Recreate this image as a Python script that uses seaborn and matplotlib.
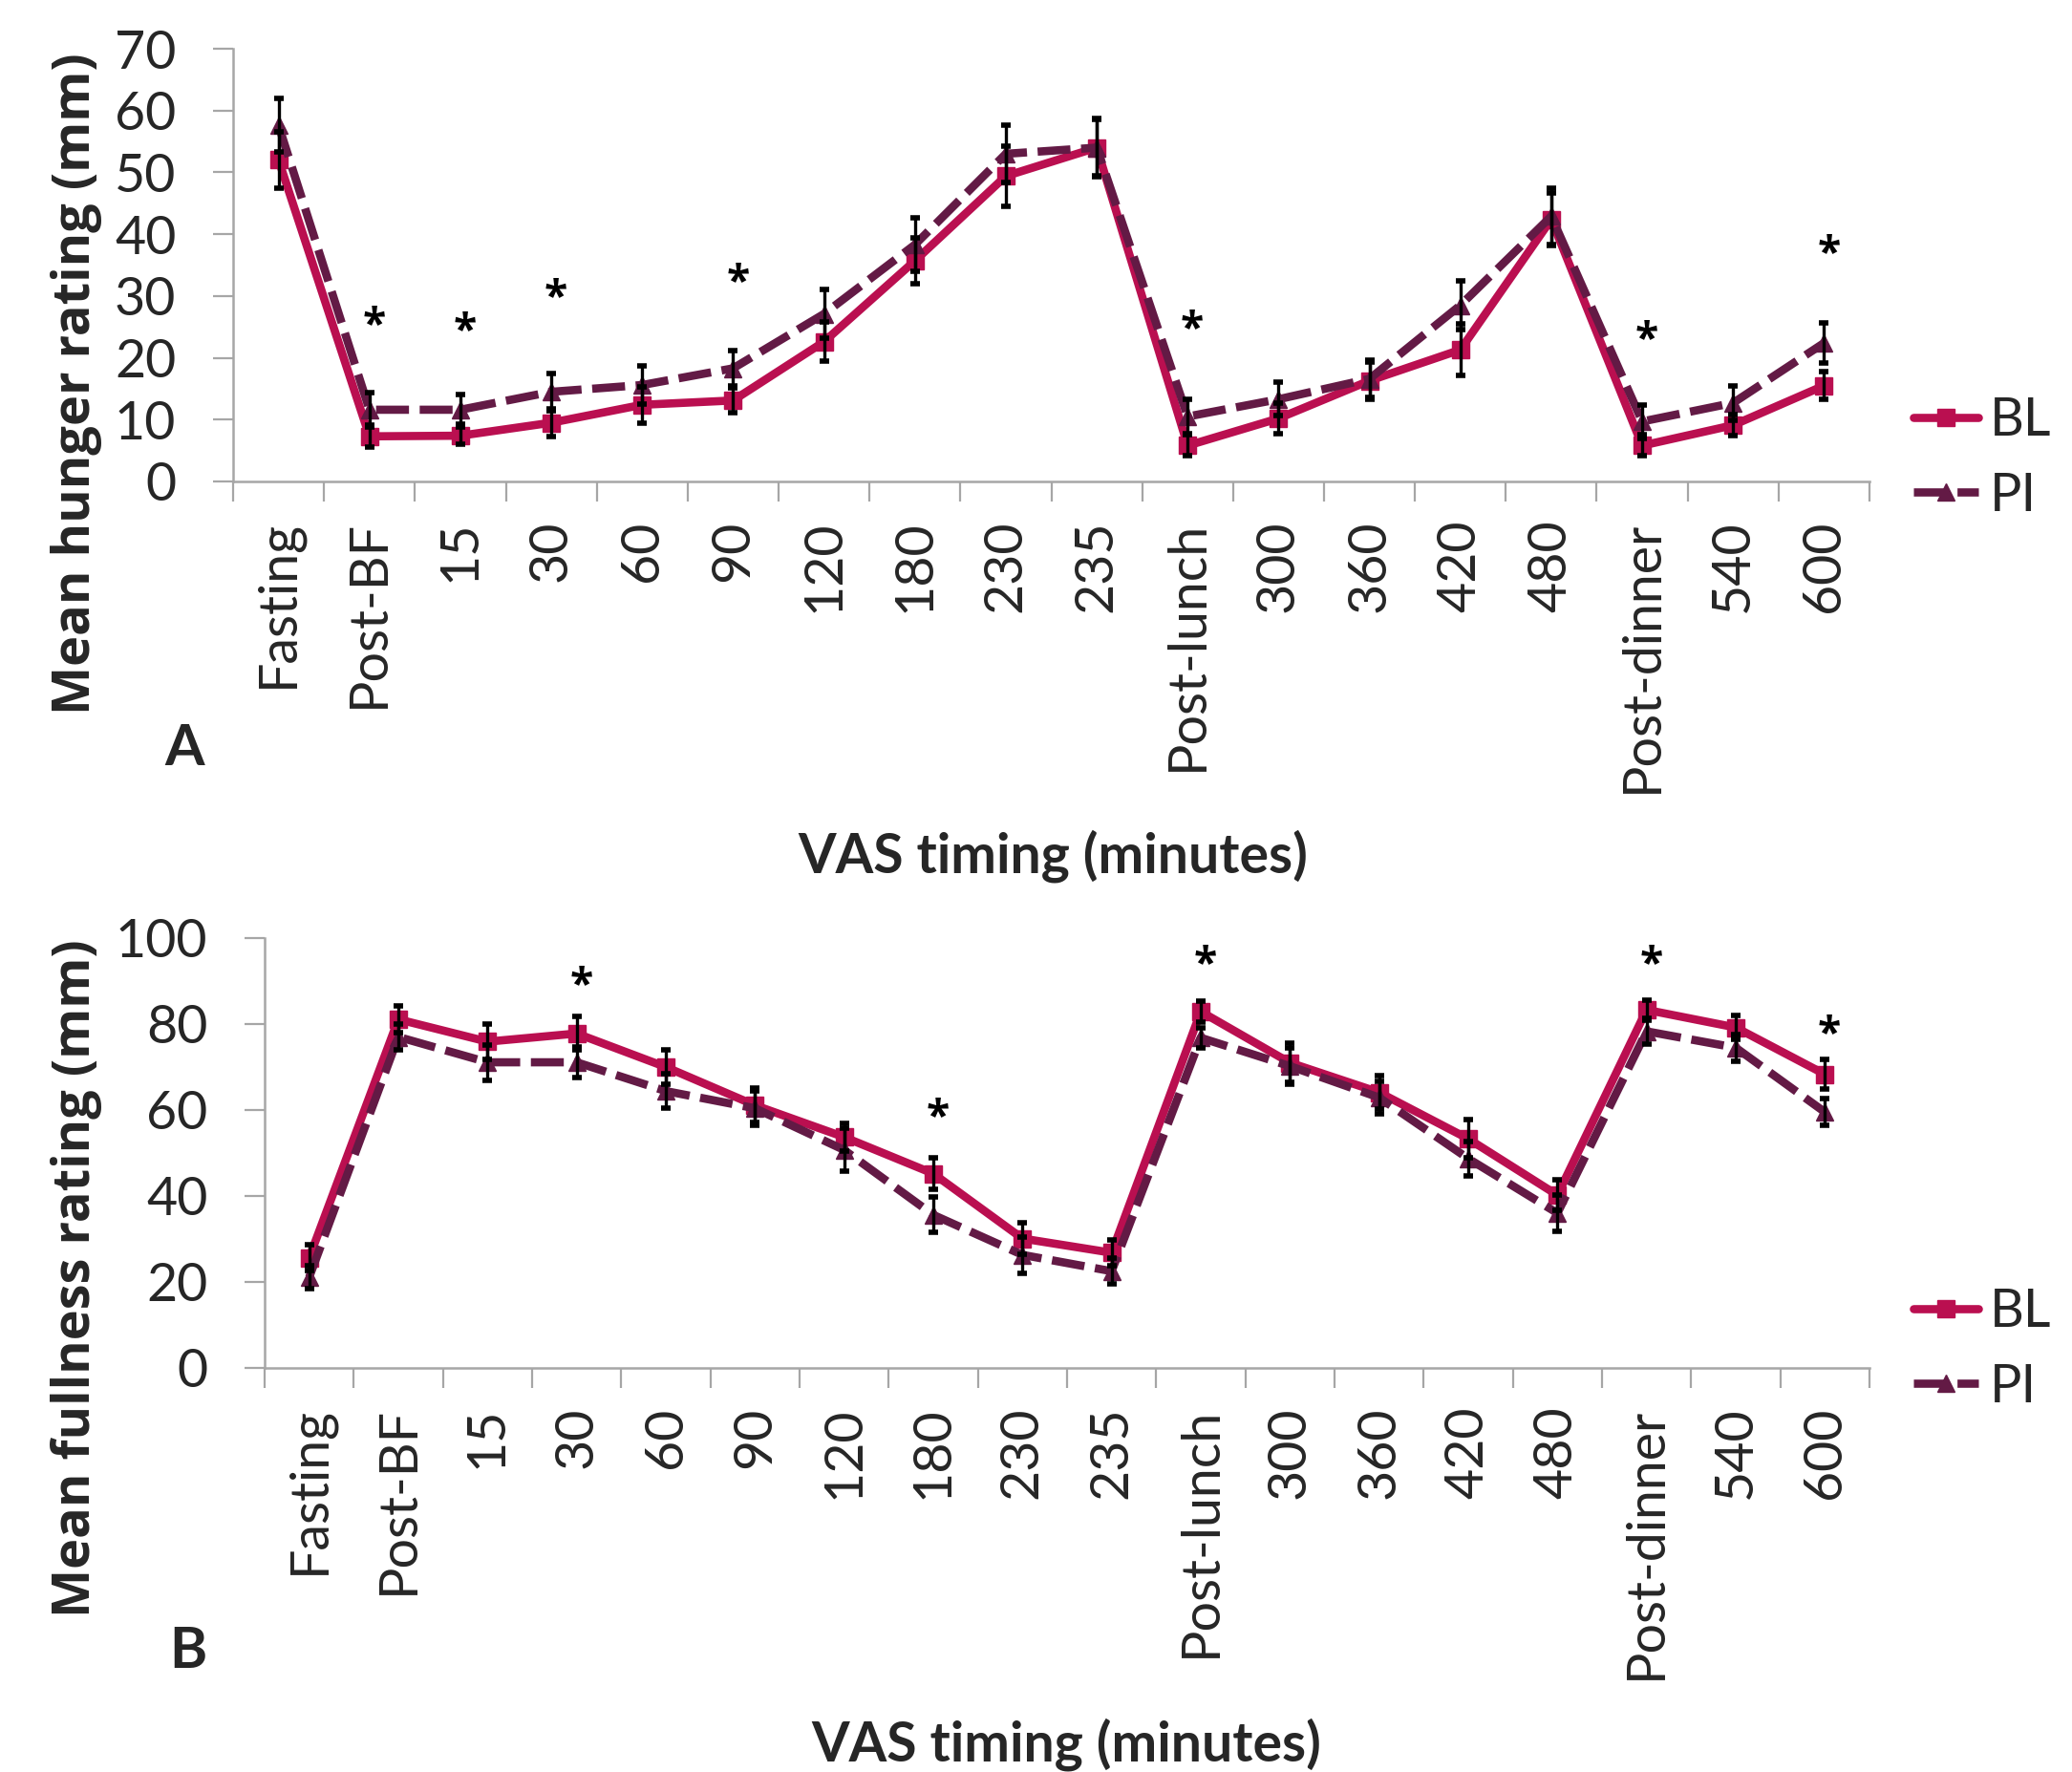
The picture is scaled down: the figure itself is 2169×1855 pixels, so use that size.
import numpy as np
import pandas as pd
import matplotlib
matplotlib.use("Agg")
import matplotlib.pyplot as plt
from matplotlib.lines import Line2D
from matplotlib.ticker import FixedLocator, NullFormatter
import seaborn as sns

# ---------------- data ----------------
timings = ["Fasting", "Post-BF", "15", "30", "60", "90", "120", "180", "230", "235",
           "Post-lunch", "300", "360", "420", "480", "Post-dinner", "540", "600"]

hunger_bl = [52.0, 7.3, 7.4, 9.5, 12.4, 13.1, 22.6, 35.7, 49.4, 54.0,
             5.8, 10.2, 16.3, 21.3, 42.4, 5.8, 9.1, 15.5]
hunger_pi = [57.6, 11.6, 11.6, 14.5, 15.6, 18.3, 27.1, 38.3, 53.0, 54.0,
             10.5, 13.3, 16.6, 28.5, 42.9, 9.7, 12.7, 22.4]
hunger_bl_err = [4.6, 1.8, 1.4, 2.2, 2.9, 2.0, 3.2, 3.7, 4.9, 4.6,
                 1.7, 2.5, 3.0, 4.2, 4.3, 1.7, 1.7, 2.2]
hunger_pi_err = [4.3, 2.8, 2.4, 3.0, 3.1, 2.8, 3.9, 4.3, 4.6, 4.7,
                 2.8, 2.7, 3.0, 3.9, 4.6, 2.7, 2.8, 3.3]
hunger_sig_idx = [1, 2, 3, 5, 10, 15, 17]
hunger_sig_y = [27.0, 26.0, 31.4, 34.0, 26.3, 24.6, 38.5]

fullness_bl = [25.6, 81.1, 75.9, 77.8, 70.0, 61.1, 53.7, 45.2, 30.1, 26.8,
               82.9, 71.0, 64.1, 53.3, 40.2, 83.3, 79.2, 68.3]
fullness_pi = [21.1, 77.0, 71.1, 71.1, 64.4, 60.4, 50.7, 35.6, 26.3, 22.5,
               76.8, 70.2, 62.9, 48.7, 36.0, 78.3, 74.5, 59.5]
fullness_bl_err = [3.0, 3.1, 4.1, 3.9, 4.1, 4.0, 3.3, 3.7, 3.7, 3.0,
                   2.5, 4.5, 3.8, 4.4, 3.5, 2.3, 2.8, 3.5]
fullness_pi_err = [2.6, 3.1, 4.1, 3.5, 4.0, 4.0, 5.0, 4.1, 4.2, 3.0,
                   2.3, 4.2, 3.8, 4.0, 4.2, 3.0, 3.1, 3.1]
fullness_sig_idx = [3, 7, 10, 15, 17]
fullness_sig_y = [91.5, 60.7, 96.4, 96.4, 80.2]

groups = ["BL", "PI"]
colors = {"BL": "#BA0F50", "PI": "#631A45"}

# ---------------- style ----------------
sns.set_style("white")
plt.rcParams["font.family"] = ["Lato", "DejaVu Sans"]
plt.rcParams["lines.scale_dashes"] = True

W, H = 2169, 1855
fig = plt.figure(figsize=(W / 100, H / 100), dpi=100)

AX_GRAY = "#A6A6A6"
LW = 6.2


def px_rect(l, t, r, b):
    return [l / W, 1 - b / H, (r - l) / W, (b - t) / H]


def draw_panel(ax, bl, pi, bl_err, pi_err, sig_idx, sig_y, ymax, ystep):
    n = len(timings)
    pos = np.arange(n)
    df = pd.DataFrame({
        "pos": np.concatenate([pos, pos]),
        "value": np.array(bl + pi, dtype=float),
        "group": ["BL"] * n + ["PI"] * n,
    })
    sns.lineplot(data=df, x="pos", y="value", hue="group", style="group",
                 palette=colors, markers={"BL": "s", "PI": "^"},
                 dashes={"BL": "", "PI": (4.0, 1.3)},
                 linewidth=LW, markersize=13, legend=False, ax=ax,
                 zorder=2)
    for ln in ax.lines:
        ln.set_markeredgecolor(ln.get_color())
        ln.set_markeredgewidth(1)
    # error bars
    for vals, errs in ((bl, bl_err), (pi, pi_err)):
        ax.errorbar(pos, vals, yerr=errs, fmt="none", ecolor="black",
                    elinewidth=2.4, capsize=3.5, capthick=4, zorder=4)
    # significance asterisks
    for i, y in zip(sig_idx, sig_y):
        ax.annotate("*", (pos[i], y), xytext=(3.5, -17), textcoords="offset points",
                    ha="center", va="baseline", fontsize=32, fontweight="bold",
                    family=["Open Sans", "DejaVu Sans"], color="black", zorder=5)

    ax.set_xlim(-0.5, n - 0.5)
    ax.set_ylim(0, ymax)
    ax.set_yticks(np.arange(0, ymax + 0.1, ystep))
    ax.set_xticks(pos)
    ax.set_xticklabels(timings, rotation=90, fontsize=40, va="top", ha="center")
    ax.xaxis.set_minor_locator(FixedLocator(np.arange(-0.5, n, 1.0)))
    ax.xaxis.set_minor_formatter(NullFormatter())
    ax.tick_params(axis="x", which="major", length=0, pad=29)
    ax.tick_params(axis="x", which="minor", length=15, width=1.6, color=AX_GRAY,
                   direction="out", bottom=True)
    ax.tick_params(axis="y", which="major", length=15, width=1.6, color=AX_GRAY,
                   direction="out", pad=28, labelsize=40, left=True)
    ax.set_xlabel("")
    ax.set_ylabel("")
    for side in ("top", "right"):
        ax.spines[side].set_visible(False)
    for side in ("left", "bottom"):
        ax.spines[side].set_color(AX_GRAY)
        ax.spines[side].set_linewidth(1.8)
    ax.grid(False)
    ax.set_facecolor("white")


# top panel
ax1 = fig.add_axes(px_rect(244, 51, 1957, 504))
draw_panel(ax1, hunger_bl, hunger_pi, hunger_bl_err, hunger_pi_err,
           hunger_sig_idx, hunger_sig_y, 70, 10)

# bottom panel
ax2 = fig.add_axes(px_rect(277, 982, 1957, 1432))
draw_panel(ax2, fullness_bl, fullness_pi, fullness_bl_err, fullness_pi_err,
           fullness_sig_idx, fullness_sig_y, 100, 20)

# legends
handles = [
    Line2D([], [], color=colors["BL"], lw=LW, marker="s", markersize=13,
           markeredgecolor=colors["BL"]),
    Line2D([], [], color=colors["PI"], lw=LW, marker="^", markersize=13,
           markeredgecolor=colors["PI"], dashes=(4.0, 1.3)),
]
for yc in (480, 1413):
    fig.legend(handles, groups, loc="center left",
               bbox_to_anchor=(2003 / W, 1 - yc / H), frameon=False,
               fontsize=40, handlelength=1.22, handletextpad=0.22,
               labelspacing=0.5, borderpad=0, borderaxespad=0)

# axis titles and panel letters
ylab_font = ["Open Sans", "DejaVu Sans"]
fig.text(80 / W, 1 - 402 / H, "Mean hunger rating (mm)", rotation=90,
         ha="center", va="center", fontsize=39, fontweight="bold", family=ylab_font)
fig.text(80 / W, 1 - 1338 / H, "Mean fullness rating (mm)", rotation=90,
         ha="center", va="center", fontsize=39, fontweight="bold", family=ylab_font)

fig.text(1102 / W, 1 - 896 / H, "VAS timing (minutes)", ha="center", va="center",
         fontsize=41, fontweight="bold")
fig.text(1116 / W, 1 - 1826 / H, "VAS timing (minutes)", ha="center", va="center",
         fontsize=41, fontweight="bold")

fig.text(193 / W, 1 - 784 / H, "A", ha="center", va="center",
         fontsize=43, fontweight="bold")
fig.text(197 / W, 1 - 1729 / H, "B", ha="center", va="center",
         fontsize=43, fontweight="bold")

fig.savefig("out.png", dpi=100, facecolor="white")
